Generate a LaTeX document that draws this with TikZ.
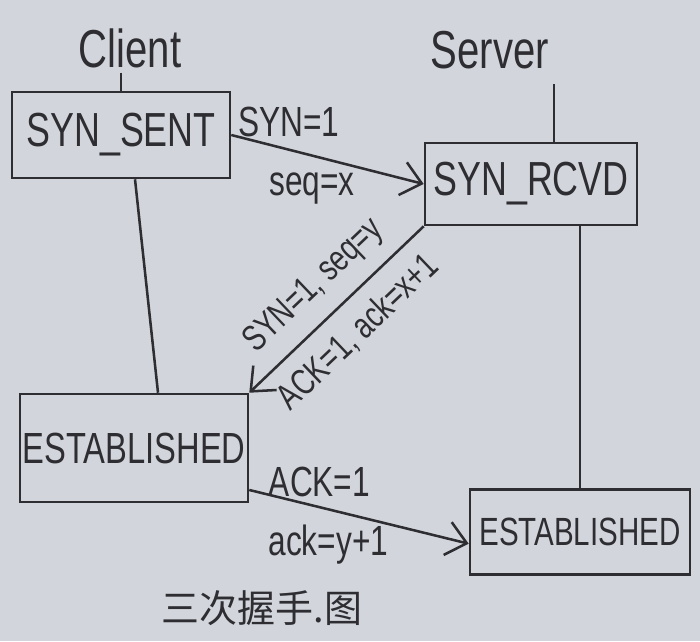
\documentclass[tikz,border=0pt]{standalone}
\usepackage{fontspec}
\setmainfont[FakeStretch=0.75]{Liberation Sans}
\newfontfamily\cjkfont{Noto Sans CJK SC}
\usepackage{xcolor}
\usepackage{tikz}
\usetikzlibrary{arrows.meta}

\definecolor{paper}{RGB}{210,214,220}
\definecolor{ink}{RGB}{45,45,50}

\tikzset{
	state/.style={draw=ink, line width=1.8pt, inner sep=0pt, text=ink, font=\fontsize{34}{36}\selectfont},
	actor/.style={text=ink, font=\fontsize{38}{40}\selectfont},
	lbl/.style={text=ink, font=\fontsize{30}{32}\selectfont},
	msg/.style={draw=ink, line width=1.8pt, -{Straight Barb[length=14pt, width=24pt, line width=1.8pt]}},
	life/.style={draw=ink, line width=1.8pt}
}

\begin{document}
\begin{tikzpicture}[x=0.025cm, y=-0.025cm]
		\fill[paper] (0,0) rectangle (700,641);
		\useasboundingbox (0,0) rectangle (700,641);
		
		% actors
		\node[actor] (client) at (130,48) {Client};
		\node[actor] (server) at (490,50) {Server};
		
		% states
		\node[state, minimum width=5.45cm, minimum height=2.15cm] (sent) at (121,135) {SYN\_SENT};
		\node[state, minimum width=5.3cm, minimum height=2.05cm] (rcvd) at (531,184) {SYN\_RCVD};
		\node[state, minimum width=5.7cm, minimum height=2.7cm, font=\fontsize{31}{33}\selectfont] (estc) at (134,448) {ESTABLISHED};
		\node[state, minimum width=5.5cm, minimum height=2.125cm, font=\fontsize{28}{30}\selectfont] (ests) at (580,532) {ESTABLISHED};
		
		% life lines
		\coordinate (srvtop) at (554,84);
		\draw[life] (client.south -| sent.north) -- (sent.north);
		\draw[life] ([xshift=0.35cm]sent.south) -- ([xshift=0.6cm]estc.north);
		\draw[life] (srvtop) -- (srvtop |- rcvd.north);
		\draw[life] (rcvd.south -| ests.north) -- (ests.north);
		
		% handshake
		\draw[msg] (sent.east) -- (rcvd.west)
			node[lbl, pos=0.3, above=5pt] {SYN=1}
			node[lbl, pos=0.42, below=8pt] {seq=x};
		\draw[msg, {Straight Barb[length=14pt, width=24pt, line width=1.8pt]}-] (estc.north east) -- (rcvd.south west)
			node[lbl, midway, above=7pt, sloped, font=\fontsize{26}{28}\selectfont] {SYN=1, seq=y}
			node[lbl, midway, below=7pt, sloped, font=\fontsize{26}{28}\selectfont] {ACK=1, ack=x+1};
		\draw[msg] (estc.-20) -- (ests.186)
			node[lbl, pos=0.32, above=3pt] {ACK=1}
			node[lbl, pos=0.36, below=7pt] {ack=y+1};
		
		\node[text=ink, font=\cjkfont\fontsize{27}{29}\selectfont] (title) at (262,608) {三次握手.图};
\end{tikzpicture}
\end{document}
